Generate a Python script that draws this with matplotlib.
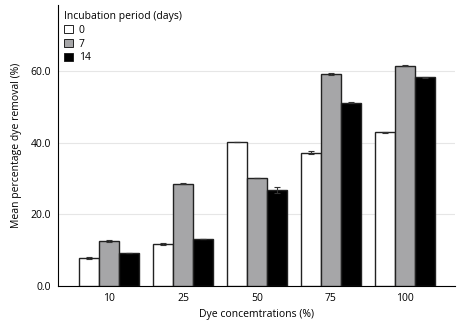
import matplotlib.pyplot as plt
import numpy as np

concentrations = ['10', '25', '50', '75', '100']
day0 = [7.8, 11.7, 40.2, 37.3, 42.9]
day7 = [12.6, 28.6, 30.2, 59.3, 61.6]
day14 = [9.2, 13.1, 26.9, 51.2, 58.3]
err0 = [0.2, 0.2, 0.0, 0.4, 0.2]
err7 = [0.2, 0.1, 0.1, 0.2, 0.1]
err14 = [0.1, 0.1, 0.8, 0.1, 0.1]

plt.rcParams['font.family'] = ['Open Sans', 'DejaVu Sans']
fig = plt.figure(figsize=(4.61, 3.22), dpi=100)
ax = fig.add_axes([0.126, 0.112, 0.861, 0.872])

x = np.arange(len(concentrations))
w = 0.27
series = [(day0, err0, 'white', '0'), (day7, err7, '#a6a6a8', '7'), (day14, err14, 'black', '14')]
for i, (vals, errs, col, lab) in enumerate(series):
    ax.bar(x + (i - 1) * w, vals, w, yerr=errs, color=col, edgecolor='#222222',
           linewidth=1.0, label=lab, capsize=2,
           error_kw=dict(elinewidth=0.8, capthick=0.8, ecolor='#333333'), zorder=3)

ax.set_xlim(-0.69, 4.68)
ax.set_ylim(0, 78.5)
ax.set_yticks([0, 20, 40, 60])
ax.set_yticklabels(['0.0', '20.0', '40.0', '60.0'])
ax.set_xticks(x)
ax.set_xticklabels(concentrations)
ax.yaxis.grid(True, color='#e6e6e6', linewidth=0.8, zorder=0)
ax.spines['top'].set_visible(False)
ax.spines['right'].set_visible(False)
ax.tick_params(length=0, labelsize=7.5, pad=5)
ax.set_xlabel('Dye concemtrations (%)', fontsize=7.5, labelpad=4)
ax.set_ylabel('Mean percentage dye removal (%)', fontsize=7.5, labelpad=6)

leg = ax.legend(title='Incubation period (days)', loc='upper left', frameon=False,
                fontsize=7.5, title_fontsize=7.5, handlelength=0.8, handleheight=0.8,
                handletextpad=0.6, labelspacing=0.25, borderaxespad=0.2,
                bbox_to_anchor=(0.0, 1.0))
leg._legend_box.align = 'left'
for h in leg.legend_handles:
    h.set_linewidth(0.7)

fig.savefig('out.png', dpi=100)
